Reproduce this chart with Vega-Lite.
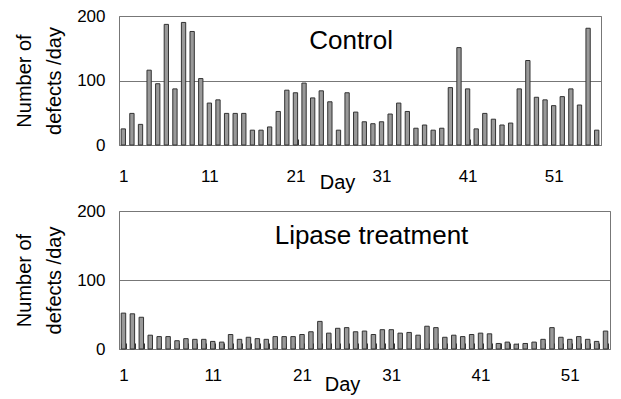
{
  "$schema": "https://vega.github.io/schema/vega-lite/v6.json",
  "padding": {"left": 14, "top": 6, "right": 2, "bottom": 2},
  "config": {
    "font": "Liberation Sans",
    "view": {"stroke": "#777", "strokeWidth": 1},
    "concat": {"spacing": 8},
    "axis": {"labelColor": "#000", "titleColor": "#000", "titleFontWeight": "normal"}
  },
  "datasets": {
    "control": [
      {"Day": 1, "Defects": 25}, {"Day": 2, "Defects": 49}, {"Day": 3, "Defects": 32}, {"Day": 4, "Defects": 116},
      {"Day": 5, "Defects": 95}, {"Day": 6, "Defects": 187}, {"Day": 7, "Defects": 87}, {"Day": 8, "Defects": 190},
      {"Day": 9, "Defects": 176}, {"Day": 10, "Defects": 103}, {"Day": 11, "Defects": 65}, {"Day": 12, "Defects": 70},
      {"Day": 13, "Defects": 49}, {"Day": 14, "Defects": 49}, {"Day": 15, "Defects": 49}, {"Day": 16, "Defects": 23},
      {"Day": 17, "Defects": 23}, {"Day": 18, "Defects": 28}, {"Day": 19, "Defects": 52}, {"Day": 20, "Defects": 85},
      {"Day": 21, "Defects": 81}, {"Day": 22, "Defects": 96}, {"Day": 23, "Defects": 73}, {"Day": 24, "Defects": 84},
      {"Day": 25, "Defects": 67}, {"Day": 26, "Defects": 23}, {"Day": 27, "Defects": 81}, {"Day": 28, "Defects": 51},
      {"Day": 29, "Defects": 36}, {"Day": 30, "Defects": 33}, {"Day": 31, "Defects": 36}, {"Day": 32, "Defects": 48},
      {"Day": 33, "Defects": 65}, {"Day": 34, "Defects": 52}, {"Day": 35, "Defects": 26}, {"Day": 36, "Defects": 31},
      {"Day": 37, "Defects": 23}, {"Day": 38, "Defects": 26}, {"Day": 39, "Defects": 89}, {"Day": 40, "Defects": 151},
      {"Day": 41, "Defects": 87}, {"Day": 42, "Defects": 25}, {"Day": 43, "Defects": 49}, {"Day": 44, "Defects": 40},
      {"Day": 45, "Defects": 31}, {"Day": 46, "Defects": 34}, {"Day": 47, "Defects": 87}, {"Day": 48, "Defects": 131},
      {"Day": 49, "Defects": 74}, {"Day": 50, "Defects": 70}, {"Day": 51, "Defects": 61}, {"Day": 52, "Defects": 75},
      {"Day": 53, "Defects": 87}, {"Day": 54, "Defects": 62}, {"Day": 55, "Defects": 181}, {"Day": 56, "Defects": 23}
    ],
    "lipase": [
      {"Day": 1, "Defects": 52}, {"Day": 2, "Defects": 51}, {"Day": 3, "Defects": 46}, {"Day": 4, "Defects": 20},
      {"Day": 5, "Defects": 18}, {"Day": 6, "Defects": 18}, {"Day": 7, "Defects": 12}, {"Day": 8, "Defects": 15},
      {"Day": 9, "Defects": 14}, {"Day": 10, "Defects": 14}, {"Day": 11, "Defects": 11}, {"Day": 12, "Defects": 10},
      {"Day": 13, "Defects": 21}, {"Day": 14, "Defects": 14}, {"Day": 15, "Defects": 17}, {"Day": 16, "Defects": 15},
      {"Day": 17, "Defects": 14}, {"Day": 18, "Defects": 18}, {"Day": 19, "Defects": 18}, {"Day": 20, "Defects": 18},
      {"Day": 21, "Defects": 21}, {"Day": 22, "Defects": 25}, {"Day": 23, "Defects": 40}, {"Day": 24, "Defects": 23},
      {"Day": 25, "Defects": 30}, {"Day": 26, "Defects": 31}, {"Day": 27, "Defects": 25}, {"Day": 28, "Defects": 26},
      {"Day": 29, "Defects": 21}, {"Day": 30, "Defects": 28}, {"Day": 31, "Defects": 28}, {"Day": 32, "Defects": 23},
      {"Day": 33, "Defects": 24}, {"Day": 34, "Defects": 20}, {"Day": 35, "Defects": 33}, {"Day": 36, "Defects": 31},
      {"Day": 37, "Defects": 17}, {"Day": 38, "Defects": 20}, {"Day": 39, "Defects": 18}, {"Day": 40, "Defects": 21},
      {"Day": 41, "Defects": 23}, {"Day": 42, "Defects": 22}, {"Day": 43, "Defects": 8}, {"Day": 44, "Defects": 10},
      {"Day": 45, "Defects": 7}, {"Day": 46, "Defects": 8}, {"Day": 47, "Defects": 10}, {"Day": 48, "Defects": 14},
      {"Day": 49, "Defects": 31}, {"Day": 50, "Defects": 17}, {"Day": 51, "Defects": 14}, {"Day": 52, "Defects": 18},
      {"Day": 53, "Defects": 14}, {"Day": 54, "Defects": 11}, {"Day": 55, "Defects": 26}
    ]
  },
  "vconcat": [
    {
      "width": 482,
      "height": 129,
      "layer": [
        {
          "data": {"name": "control"},
          "mark": {"type": "bar", "fill": "#999", "stroke": "#333", "strokeWidth": 1},
          "encoding": {
            "x": {
              "field": "Day", "type": "ordinal",
              "scale": {"paddingInner": 0.5, "paddingOuter": 0.25},
              "axis": {
                "title": "Day", "titleFontSize": 20, "titleX": 218, "titleY": 37, "titleBaseline": "middle",
                "labelAngle": 0, "labelFontSize": 17, "labelPadding": 29, "labelOverlap": false,
                "labelExpr": "(datum.value - 1) % 10 === 0 ? datum.label : ''",
                "domain": true, "domainColor": "#777",
                "tickBand": "extent", "tickSize": -6, "tickColor": "#333",
                "tickOpacity": {"condition": {"test": "datum.value === 21 || datum.value === 41", "value": 1}, "value": 0}
              }
            },
            "y": {
              "field": "Defects", "type": "quantitative",
              "scale": {"domain": [0, 200]},
              "axis": {
                "values": [0, 100, 200], "grid": true, "gridColor": "#777", "gridOpacity": 1,
                "ticks": false, "domain": false, "labelFontSize": 17, "labelPadding": 14,
                "title": ["Number of", "defects /day"], "titleAngle": 270, "titleFontSize": 20, "titleLineHeight": 30, "titlePadding": 12
              }
            }
          }
        },
        {
          "data": {"values": [{"label": "Control"}]},
          "mark": {"type": "text", "fontSize": 26, "color": "#000", "dx": 4},
          "encoding": {
            "text": {"field": "label"},
            "x": {"datum": 27, "type": "ordinal"},
            "y": {"datum": 161, "type": "quantitative"}
          }
        }
      ]
    },
    {
      "width": 491,
      "height": 138,
      "layer": [
        {
          "data": {"name": "lipase"},
          "mark": {"type": "bar", "fill": "#999", "stroke": "#333", "strokeWidth": 1},
          "encoding": {
            "x": {
              "field": "Day", "type": "ordinal",
              "scale": {"paddingInner": 0.5, "paddingOuter": 0.25},
              "axis": {
                "title": "Day", "titleFontSize": 20, "titleX": 223, "titleY": 35, "titleBaseline": "middle",
                "labelAngle": 0, "labelFontSize": 17, "labelPadding": 24, "labelOverlap": false,
                "labelExpr": "(datum.value - 1) % 10 === 0 ? datum.label : ''",
                "domain": true, "domainColor": "#777",
                "tickBand": "extent", "tickSize": -6, "tickColor": "#333"
              }
            },
            "y": {
              "field": "Defects", "type": "quantitative",
              "scale": {"domain": [0, 200]},
              "axis": {
                "values": [0, 100, 200], "grid": true, "gridColor": "#777", "gridOpacity": 1,
                "ticks": false, "domain": false, "labelFontSize": 17, "labelPadding": 14,
                "title": ["Number of", "defects /day"], "titleAngle": 270, "titleFontSize": 20, "titleLineHeight": 30, "titlePadding": 12
              }
            }
          }
        },
        {
          "data": {"values": [{"label": "Lipase treatment"}]},
          "mark": {"type": "text", "fontSize": 26, "color": "#000", "dx": 7},
          "encoding": {
            "text": {"field": "label"},
            "x": {"datum": 28, "type": "ordinal"},
            "y": {"datum": 164, "type": "quantitative"}
          }
        }
      ]
    }
  ]
}
